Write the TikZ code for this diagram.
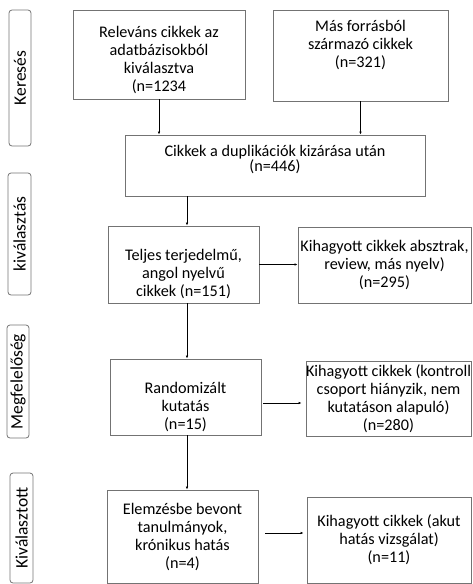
\documentclass[tikz,border=0pt]{standalone}
\usepackage{fontspec}
\setmainfont{Carlito}
\usetikzlibrary{arrows.meta}

\begin{document}
\begin{tikzpicture}[x=1pt, y=-1pt,
		box/.style={draw=black!55, line width=0.8pt, align=center, inner sep=0pt,
			font=\fontsize{16.2}{18}\selectfont},
		phase/.style={draw=black!55, line width=0.8pt, rounded corners=3pt, rotate=90,
			inner sep=0pt, font=\fontsize{17.5}{20}\selectfont},
		arr/.style={-{Latex[length=3pt, width=2.5pt]}, line width=0.8pt}]
			\useasboundingbox (0, 0) rectangle (472, 584);
			
			% szakaszok
			\node[phase, minimum width=136, minimum height=22] (kereses) at (20, 78) {Keresés};
			\node[phase, minimum width=122, minimum height=23] (kivalasztas) at (19.5, 234) {kiválasztás};
			\node[phase, minimum width=113, minimum height=22] (megfeleloseg) at (18, 381.5) {Megfelelőség};
			\node[phase, minimum width=110, minimum height=23] (kivalasztott) at (21.5, 528) {Kiválasztott};
			
			% dobozok
			\node[box, minimum width=172, minimum height=89] (adatbazis) at (159, 54.5)
				{\rule{0pt}{22pt}Releváns cikkek az\\ adatbázisokból\\ kiválasztva\\ (n=1234};
			\node[box, minimum width=175, minimum height=91] (mas) at (360.5, 55.5)
				{Más forrásból\\ származó cikkek\\ (n=321)\\ \strut};
			\node[box, minimum width=300, minimum height=61] (duplikacio) at (275, 165.5)
				{Cikkek a duplikációk kizárása után\\[-3pt] (n=446)\rule[-14pt]{0pt}{0pt}};
			\node[box, minimum width=151, minimum height=77] (teljes) at (183.5, 264.5)
				{\strut\\ Teljes terjedelmű,\\ angol nyelvű\\ cikkek (n=151)};
			\node[box, minimum width=173, minimum height=76] (kihagy1) at (384.5, 265)
				{Kihagyott cikkek absztrak,\\ review, más nyelv)\\ (n=295)};
			\node[box, minimum width=151, minimum height=76] (random) at (185.5, 397)
				{\strut\\ Randomizált\\ kutatás\\ (n=15)};
			\node[box, minimum width=165, minimum height=75] (kihagy2) at (388.5, 398.5)
				{Kihagyott cikkek (kontroll\\ csoport hiányzik, nem\\ kutatáson alapuló)\\ (n=280)};
			\node[box, minimum width=151, minimum height=93] (elemzes) at (182.5, 536.5)
				{Elemzésbe bevont\\ tanulmányok,\\ krónikus hatás\\ (n=4)};
			\node[box, minimum width=164, minimum height=86] (kihagy3) at (389, 540)
				{Kihagyott cikkek (akut\\ hatás vizsgálat)\\ (n=11)};
			
			% nyilak
			\draw[arr] (adatbazis.south) -- (adatbazis.south |- duplikacio.north);
			\draw[arr] (mas.south) -- (mas.south |- duplikacio.north);
			\draw[arr] (187, 196) -- (teljes.north -| 187, 0);
			\draw[arr] (teljes.south -| 187, 0) -- (random.north -| 187, 0);
			\draw[arr] (random.south -| 187, 0) -- (elemzes.north -| 187, 0);
			\draw[arr] (teljes.east) -- (teljes.east -| kihagy1.west);
			\draw[arr, shorten <=2pt, shorten >=4pt] (random.east |- 0, 403) -- (kihagy2.west |- 0, 403);
			\draw[arr, shorten <=7pt, shorten >=3pt] (elemzes.east |- 0, 533) -- (kihagy3.west |- 0, 533);
		\end{tikzpicture}
\end{document}
